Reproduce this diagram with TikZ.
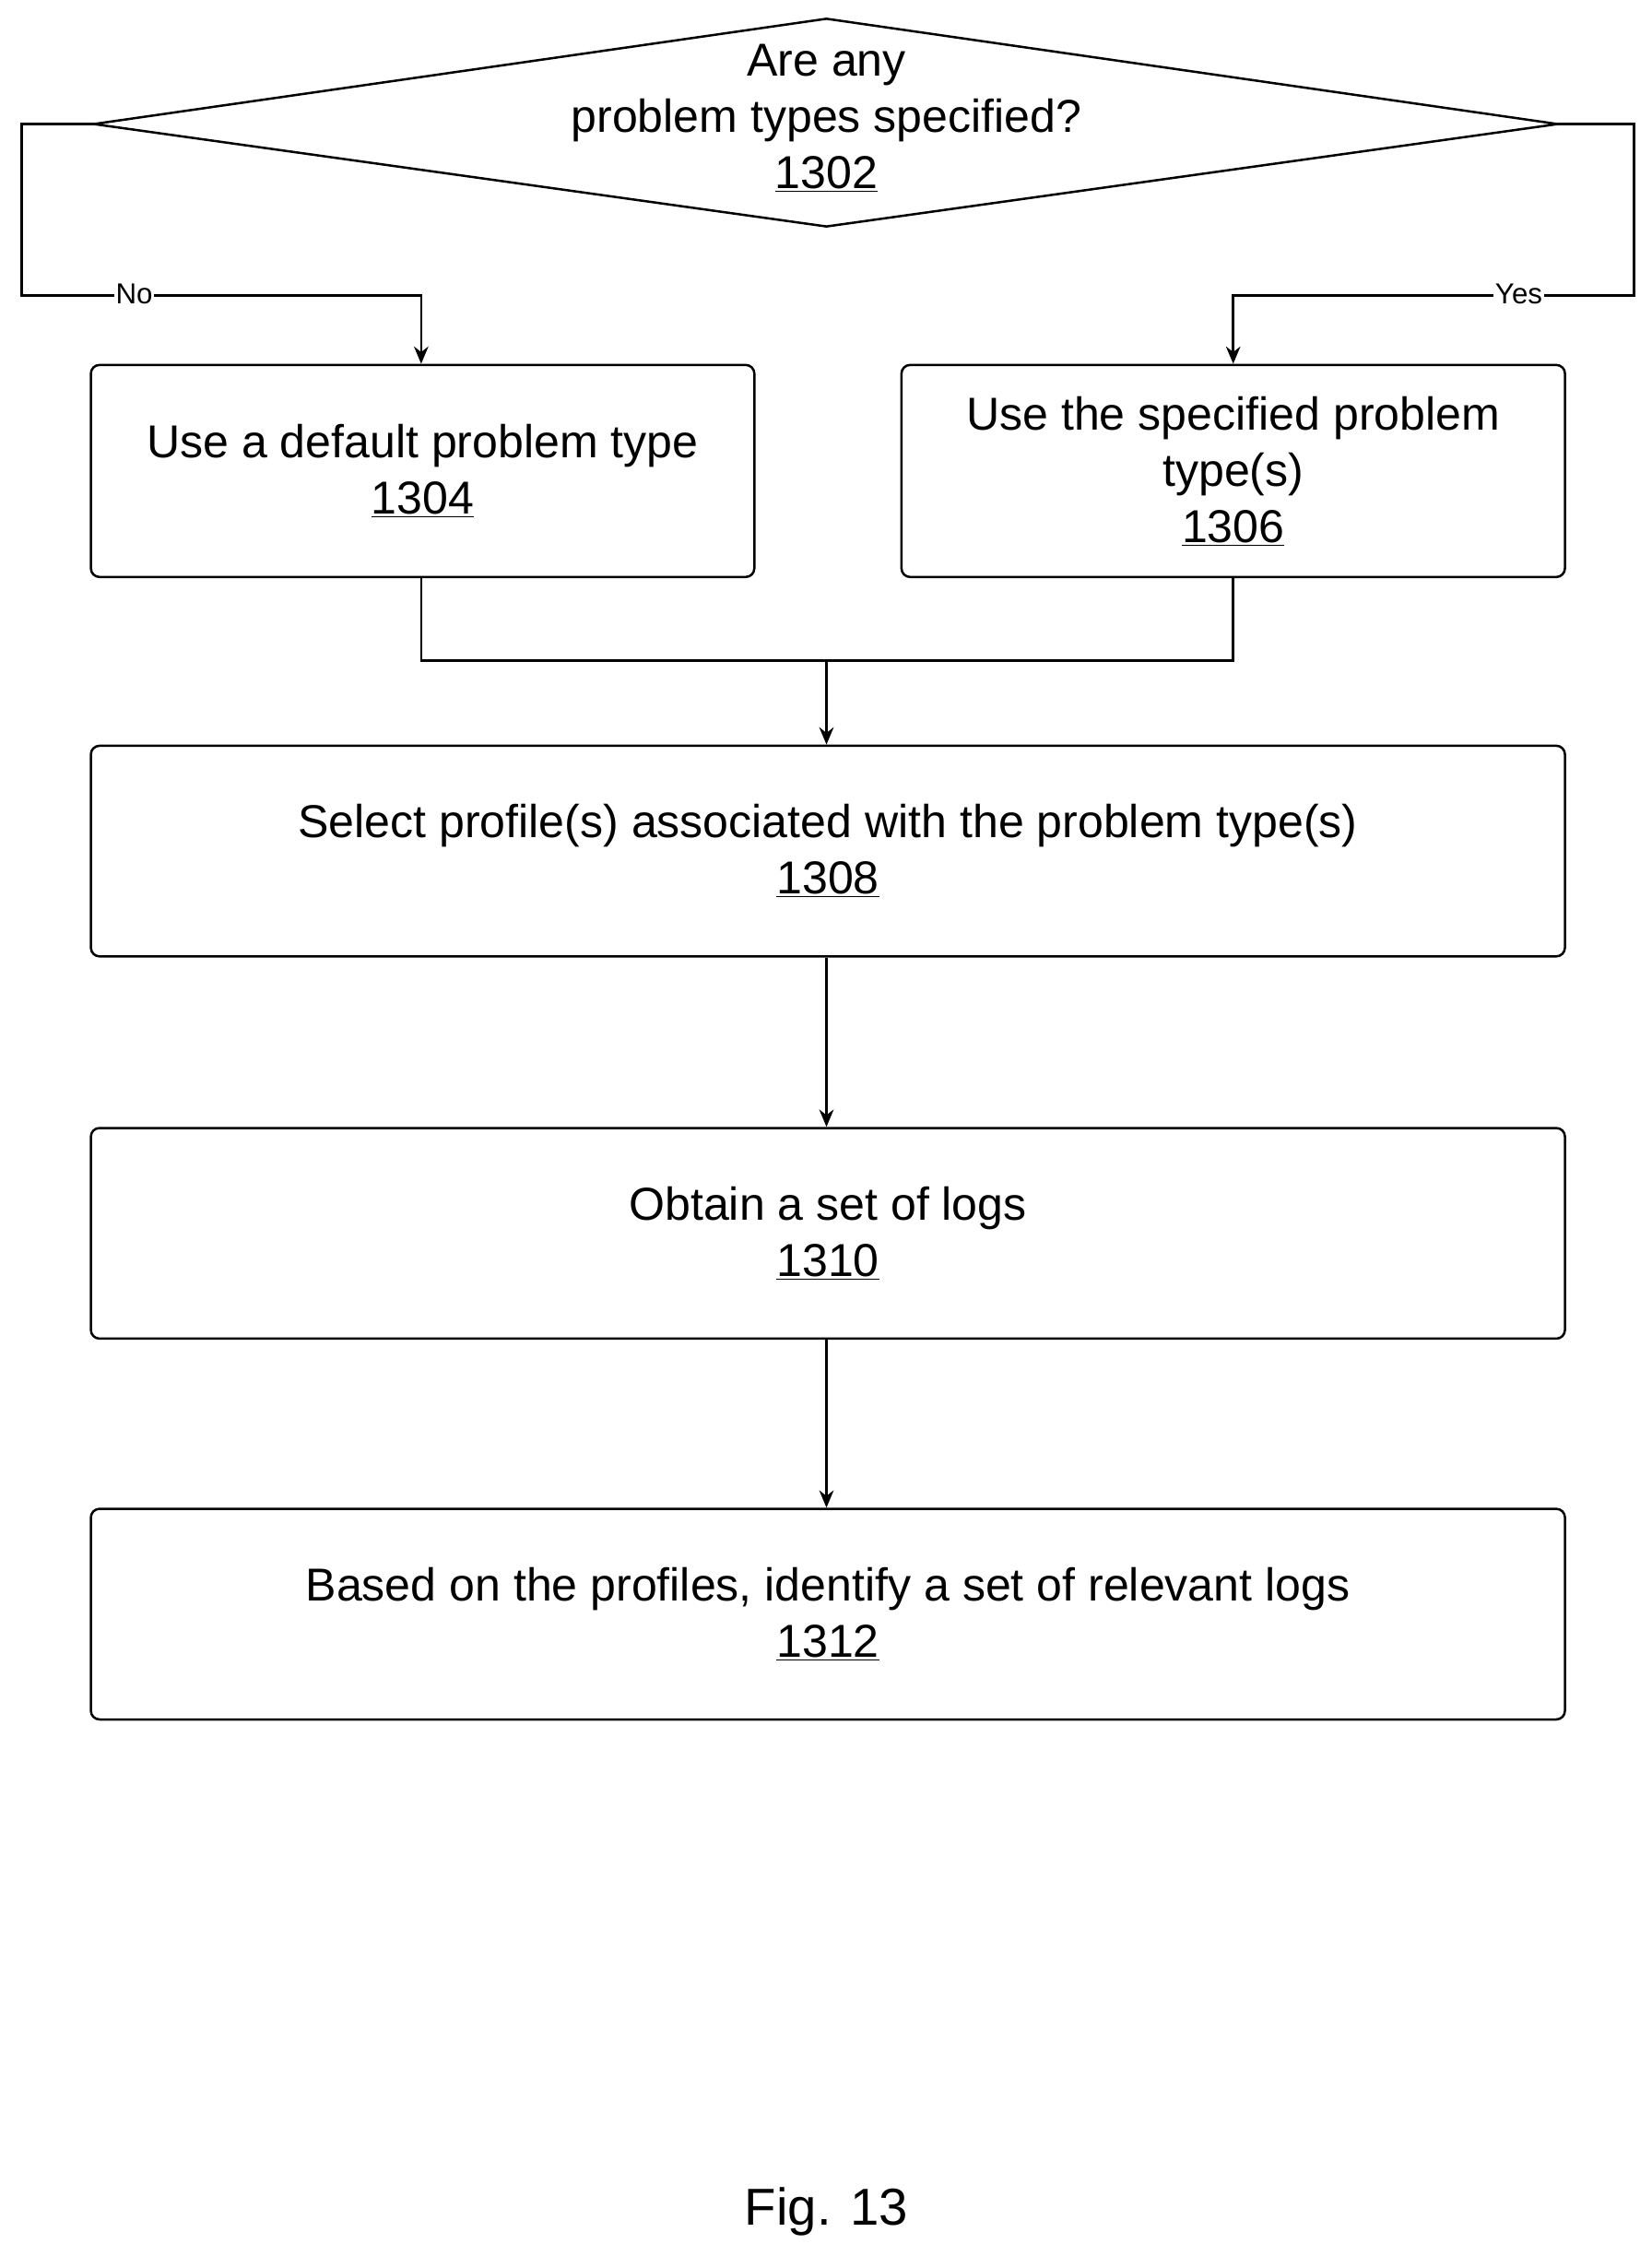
\documentclass[tikz,border=0pt]{standalone}
\usepackage{fontspec}
\setmainfont{Liberation Sans}
\usetikzlibrary{arrows.meta,positioning}

\tikzset{
  box/.style={draw, rounded corners=6pt, line width=1.6pt, align=center, inner sep=0pt},
  flow/.style={line width=1.6pt, -{Stealth[length=12pt,width=10pt]}},
  link/.style={line width=1.6pt}
}

\begin{document}
\begin{tikzpicture}[x=1pt,y=-1pt,font=\fontsize{32}{39}\selectfont]
		\useasboundingbox (0,0) rectangle (1145,1564);

		% decision diamond
		\coordinate (dtop) at (573,13);
		\coordinate (dbot) at (573,157);
		\coordinate (dleft) at (65,86);
		\coordinate (dright) at (1080,86);
		\draw[link, line join=round] (dtop) -- (dright) -- (dbot) -- (dleft) -- cycle;
		\node[align=center] (ask) at (573,82) {Are any\\problem types specified?\\\underline{1302}};

		% process boxes
		\node[box, minimum width=460pt, minimum height=147pt] (dflt) at (293,326.5) {Use a default problem type\\\underline{1304}};
		\node[box, minimum width=460pt, minimum height=147pt] (spec) at (855,326.5) {Use the specified problem\\type(s)\\\underline{1306}};
		\node[box, minimum width=1022pt, minimum height=146pt] (sel) at (574,590) {Select profile(s) associated with the problem type(s)\\\underline{1308}};
		\node[box, minimum width=1022pt, minimum height=146pt] (obt) at (574,855) {Obtain a set of logs\\\underline{1310}};
		\node[box, minimum width=1022pt, minimum height=146pt] (rel) at (574,1119) {Based on the profiles, identify a set of relevant logs\\\underline{1312}};

		% branches
		\draw[flow] (dleft) -- (15,86) -- (15,205) -- (292,205) -- (dflt.north -| 292,0);
		\draw[flow] (dright) -- (1133,86) -- (1133,205) -- (855,205) -- (spec.north);
		\node[font=\fontsize{20}{22}\selectfont, fill=white, inner sep=1pt] (no) at (93,204) {No};
		\node[font=\fontsize{20}{22}\selectfont, fill=white, inner sep=1pt] (yes) at (1053,204) {Yes};

		% merge
		\coordinate (join) at (573,458);
		\draw[link] (dflt.south -| 292,0) -- (292,458) -- (855,458) -- (spec.south);
		\draw[flow] (join) -- (sel.north -| join);
		\draw[flow] (sel.south -| join) -- (obt.north -| join);
		\draw[flow] (obt.south -| join) -- (rel.north -| join);

		\node[font=\fontsize{36}{40}\selectfont] (fig) at (573,1533) {Fig. 13};
\end{tikzpicture}
\end{document}
